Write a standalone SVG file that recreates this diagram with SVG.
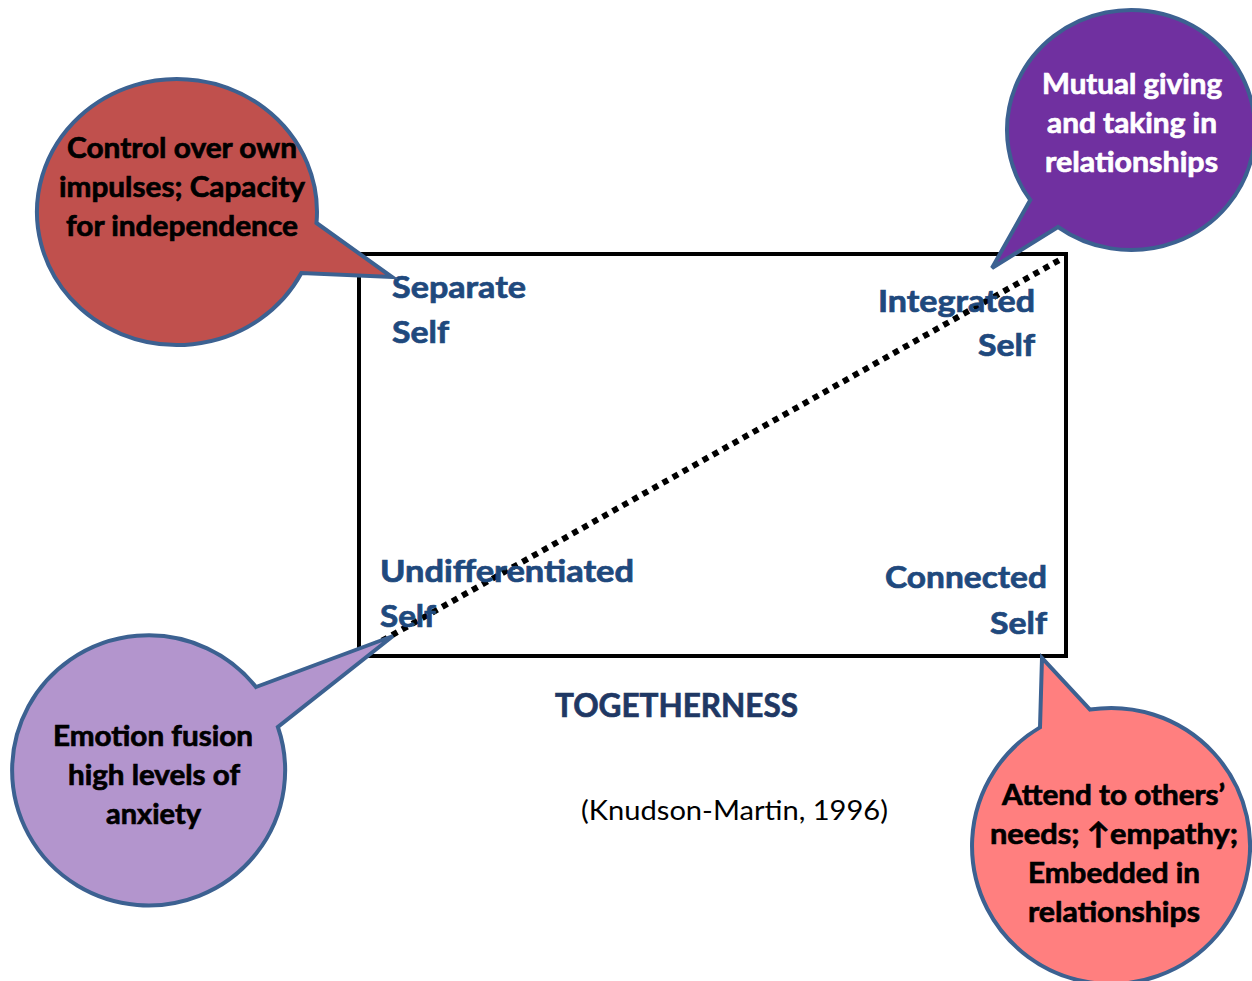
<svg xmlns="http://www.w3.org/2000/svg" width="1252" height="981" viewBox="0 0 1252 981">
  <style>
    .frame { fill: none; stroke: #000; stroke-width: 4; }
    .diag { fill: none; stroke: #000; stroke-width: 6; stroke-dasharray: 6 5.5; }
    .bubble { stroke: #3C6191; stroke-width: 4; stroke-linejoin: miter; }
    .btxt { font-family: Lato, "Liberation Sans", "DejaVu Sans", sans-serif; font-weight: 700; font-size: 29px; fill: #000; stroke: #000; stroke-width: 0.7px; }
    .white { fill: #fff; stroke: #fff; }
    .quad { font-family: Lato, "Liberation Sans", sans-serif; font-weight: 700; font-size: 30px; fill: #1F497D; stroke: #1F497D; stroke-width: 0.7px; }
    .axis { font-family: Lato, "Liberation Sans", sans-serif; font-weight: 700; font-size: 32px; fill: #1F3864; stroke: #1F3864; stroke-width: 0.7px; }
    .cite { font-family: Lato, "Liberation Sans", sans-serif; font-weight: 400; font-size: 27px; fill: #000; }
  </style>

  <rect width="1252" height="981" fill="#fff"/>

  <!-- quadrant frame -->
  <g id="frame">
    <rect class="frame" x="359" y="254" width="707" height="402"/>
  </g>

  <!-- dotted diagonal from undifferentiated to integrated -->
  <g id="connectors">
    <line class="diag" x1="362" y1="652" x2="1063" y2="258"/>
  </g>

  <!-- quadrant labels -->
  <g id="separate-self">
    <text class="quad" x="392" y="298" textLength="134" lengthAdjust="spacingAndGlyphs">Separate</text>
    <text class="quad" x="392" y="343" textLength="57" lengthAdjust="spacingAndGlyphs">Self</text>
  </g>
  <g id="integrated-self">
    <text class="quad" x="878" y="312" textLength="157" lengthAdjust="spacingAndGlyphs">Integrated</text>
    <text class="quad" x="978" y="356" textLength="57" lengthAdjust="spacingAndGlyphs">Self</text>
  </g>
  <g id="undifferentiated-self">
    <text class="quad" x="380" y="582" textLength="254" lengthAdjust="spacingAndGlyphs">Undifferentiated</text>
    <text class="quad" x="380" y="627" textLength="56" lengthAdjust="spacingAndGlyphs">Self</text>
  </g>
  <g id="connected-self">
    <text class="quad" x="885" y="588" textLength="162" lengthAdjust="spacingAndGlyphs">Connected</text>
    <text class="quad" x="990" y="634" textLength="57" lengthAdjust="spacingAndGlyphs">Self</text>
  </g>

  <!-- axis caption and citation -->
  <g id="axis-label">
    <text class="axis" x="555" y="717" textLength="243" lengthAdjust="spacingAndGlyphs">TOGETHERNESS</text>
  </g>
  <g id="citation">
    <text class="cite" x="581" y="820" textLength="307" lengthAdjust="spacingAndGlyphs">(Knudson-Martin, 1996)</text>
  </g>

  <!-- speech bubbles: ellipse body with a pointed tail -->
  <g id="bubble-separate">
    <path class="bubble" fill="#C0504D" d="M316.5 223 L392 277 L301.4 273 A140 133 0 1 1 316.5 223 Z"/>
    <text class="btxt" x="67" y="158" textLength="230" lengthAdjust="spacingAndGlyphs">Control over own</text>
    <text class="btxt" x="59" y="197" textLength="246" lengthAdjust="spacingAndGlyphs">impulses; Capacity</text>
    <text class="btxt" x="66" y="236" textLength="232" lengthAdjust="spacingAndGlyphs">for independence</text>
  </g>

  <g id="bubble-integrated">
    <path class="bubble" fill="#7030A0" d="M1058 227 L992 268 L1030.3 200 A124 120 0 1 1 1058 227 Z"/>
    <text class="btxt white" x="1042" y="94" textLength="180" lengthAdjust="spacingAndGlyphs">Mutual giving</text>
    <text class="btxt white" x="1047" y="133" textLength="170" lengthAdjust="spacingAndGlyphs">and taking in</text>
    <text class="btxt white" x="1045" y="172" textLength="173" lengthAdjust="spacingAndGlyphs">relationships</text>
  </g>

  <g id="bubble-undifferentiated">
    <path class="bubble" fill="#B395CD" d="M256 687 L393 636 L277.9 727 A136.5 135 0 1 1 256 687 Z"/>
    <text class="btxt" x="53" y="746" textLength="200" lengthAdjust="spacingAndGlyphs">Emotion fusion</text>
    <text class="btxt" x="68" y="785" textLength="172" lengthAdjust="spacingAndGlyphs">high levels of</text>
    <text class="btxt" x="106" y="824" textLength="95" lengthAdjust="spacingAndGlyphs">anxiety</text>
  </g>

  <g id="bubble-connected">
    <path class="bubble" fill="#FF7F7F" d="M1040 727.4 L1042 658 L1090 709.6 A139 138 0 1 1 1040 727.4 Z"/>
    <text class="btxt" x="1002" y="805" textLength="223" lengthAdjust="spacingAndGlyphs">Attend to others’</text>
    <text class="btxt" x="990" y="844" textLength="248" lengthAdjust="spacingAndGlyphs">needs; ↑empathy;</text>
    <text class="btxt" x="1028" y="883" textLength="172" lengthAdjust="spacingAndGlyphs">Embedded in</text>
    <text class="btxt" x="1028" y="922" textLength="172" lengthAdjust="spacingAndGlyphs">relationships</text>
  </g>
</svg>
